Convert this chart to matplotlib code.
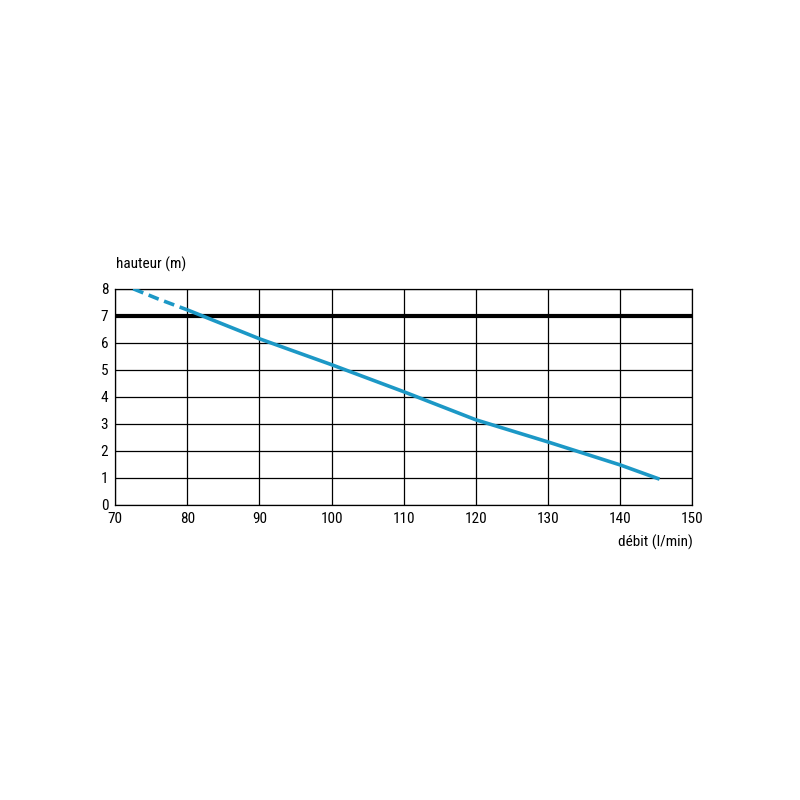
import numpy as np
import matplotlib.pyplot as plt
from matplotlib import font_manager

# police étroite si disponible
noms = {f.name for f in font_manager.fontManager.ttflist}
famille = [n for n in ['Liberation Sans Narrow', 'DejaVu Sans Condensed', 'Roboto Condensed']
           if n in noms] + ['Liberation Sans', 'DejaVu Sans']
plt.rcParams['font.family'] = famille
etroit = famille[0] != 'Liberation Sans'
taille = 11 if etroit else 10.5

# courbe de la pompe
debit_pointille = [72.5, 76, 80]
hauteur_pointille = [8.0, 7.62, 7.22]
debit = [80, 90, 100, 110, 120, 130, 140, 145.5]
hauteur = [7.22, 6.15, 5.19, 4.19, 3.15, 2.33, 1.48, 0.95]
hauteur_max = 7

x_ticks = [70, 80, 90, 100, 110, 120, 130, 140, 150]
y_ticks = [0, 1, 2, 3, 4, 5, 6, 7, 8]

fig = plt.figure(figsize=(8, 8), dpi=100)
ax = fig.add_axes([0.144, 0.369, 0.721, 0.27])

bleu = '#1c98c6'
ax.plot(debit_pointille, hauteur_pointille, color=bleu, lw=2.6, ls=(0, (3, 1.6)), zorder=4)
ax.plot(debit, hauteur, color=bleu, lw=2.6, solid_capstyle='butt', zorder=4)
ax.axhline(hauteur_max, color='black', lw=3, zorder=3)

ax.set_xlim(70, 150)
ax.set_ylim(0, 8)
ax.set_xticks(x_ticks)
ax.set_yticks(y_ticks)
ax.grid(True, color='black', lw=0.9)
ax.tick_params(length=0, labelsize=taille, pad=5)
for s in ax.spines.values():
    s.set_linewidth(0.9)

fig.text(0.145, 0.669, 'hauteur (m)', fontsize=taille, ha='left', va='center')
fig.text(0.866, 0.322, 'débit (l/min)', fontsize=taille, ha='right', va='center')

plt.savefig('out.png', dpi=100)
